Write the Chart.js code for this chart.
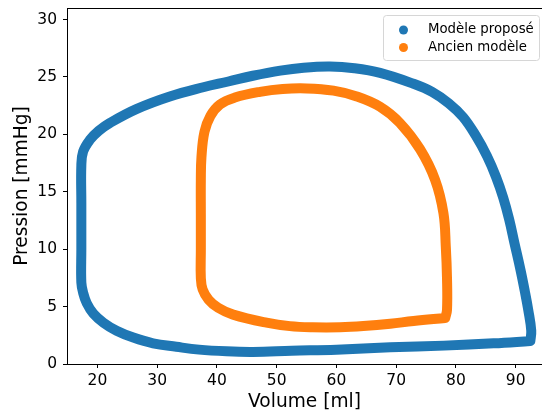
<!DOCTYPE html>
<html lang="fr">
<head>
    <meta charset="UTF-8">
    <title>Boucle pression-volume</title>
    <script src="https://cdn.jsdelivr.net/npm/chart.js@4.4.3/dist/chart.umd.min.js"></script>
    <style>
        body { margin: 0; background: #fff; }
        canvas { display: block; }
    </style>
</head>
<body>
    <canvas id="pvChart" width="542" height="414"></canvas>
    <script>
        // Boucle du modèle proposé (volume en ml, pression en mmHg)
        const volumePropose = [92.45, 86.3, 78.0, 69.0, 60.0, 52.5, 46.0, 41.6, 37.0, 33.2, 29.3, 26.0, 23.2, 21.0, 19.3, 18.2, 17.6, 17.3, 17.3, 17.3, 17.3, 17.6, 18.7, 20.2, 22.1, 26.5, 32.1, 37.7, 41.9, 46.0, 50.6, 54.5, 58.9, 63.0, 67.3, 72.9, 76.0, 78.8, 81.2, 83.3, 85.2, 86.7, 87.9, 88.9, 89.8, 90.8, 91.5, 92.1, 92.6, 92.45];
        const pressionPropose = [2.0, 1.8, 1.6, 1.45, 1.25, 1.15, 1.05, 1.1, 1.25, 1.5, 1.8, 2.3, 2.9, 3.6, 4.4, 5.3, 6.2, 7.1, 10.0, 14.0, 17.3, 18.5, 19.5, 20.3, 21.0, 22.2, 23.3, 24.1, 24.6, 25.1, 25.55, 25.8, 25.9, 25.75, 25.35, 24.4, 23.7, 22.7, 21.5, 19.9, 18.1, 16.3, 14.5, 12.6, 10.5, 8.2, 6.4, 4.7, 2.9, 2.0];

        // Boucle de l'ancien modèle
        const volumeAncien = [78.2, 72.9, 69.0, 64.5, 60.6, 56.0, 52.2, 48.3, 42.7, 40.2, 38.6, 37.6, 37.3, 37.3, 37.3, 37.3, 37.4, 37.9, 38.9, 40.5, 43.0, 47.2, 51.0, 55.0, 59.5, 63.4, 67.3, 70.6, 74.0, 76.5, 77.9, 78.3, 78.5, 78.5, 78.2];
        const pressionAncien = [4.0, 3.75, 3.5, 3.3, 3.2, 3.2, 3.3, 3.6, 4.3, 4.9, 5.6, 6.5, 7.5, 10.0, 13.0, 16.0, 18.0, 20.2, 21.6, 22.6, 23.2, 23.7, 23.95, 24.0, 23.8, 23.3, 22.4, 21.0, 18.7, 16.05, 13.15, 10.2, 7.5, 4.7, 4.0];

        const xTicks = [20, 30, 40, 50, 60, 70, 80, 90];
        const yTicks = [0, 5, 10, 15, 20, 25, 30];

        const police = "'DejaVu Sans', sans-serif";

        function points(xs, ys) {
            return xs.map((x, i) => ({ x: x, y: ys[i] }));
        }

        function sansMarge(axis) {
            axis.paddingTop = 0;
            axis.paddingBottom = 0;
            axis.paddingLeft = 0;
            axis.paddingRight = 0;
        }

        // spine du haut + légende dans le cadre, façon matplotlib
        const cadrePlugin = {
            id: 'cadre',
            afterDraw(chart) {
                const ctx = chart.ctx;
                const a = chart.chartArea;
                ctx.save();
                ctx.strokeStyle = '#000';
                ctx.lineWidth = 1;
                ctx.beginPath();
                ctx.moveTo(a.left, a.top + 0.5);
                ctx.lineTo(a.right, a.top + 0.5);
                ctx.stroke();

                // légende
                const bx = 383.5, by = 15.5, bw = 156, bh = 45;
                ctx.fillStyle = 'rgba(255,255,255,0.8)';
                ctx.strokeStyle = '#d6d6d6';
                ctx.beginPath();
                ctx.roundRect(bx, by, bw, bh, 3);
                ctx.fill();
                ctx.stroke();
                ctx.font = '13.3px ' + police;
                ctx.textBaseline = 'middle';
                chart.data.datasets.forEach((ds, i) => {
                    const cy = 30 + i * 17.5;
                    ctx.fillStyle = ds.borderColor;
                    ctx.beginPath();
                    ctx.arc(403.5, cy, 4.5, 0, Math.PI * 2);
                    ctx.fill();
                    ctx.fillStyle = '#000';
                    ctx.fillText(ds.label, 428, cy);
                });
                ctx.restore();
            }
        };

        new Chart(document.getElementById('pvChart'), {
            type: 'scatter',
            data: {
                datasets: [{
                    label: 'Modèle proposé',
                    data: points(volumePropose, pressionPropose),
                    borderColor: '#1f77b4',
                    backgroundColor: '#1f77b4'
                }, {
                    label: 'Ancien modèle',
                    data: points(volumeAncien, pressionAncien),
                    borderColor: '#ff7f0e',
                    backgroundColor: '#ff7f0e'
                }]
            },
            options: {
                responsive: false,
                animation: false,
                devicePixelRatio: 1,
                layout: { padding: { top: 8, right: 0, left: 0, bottom: 0 } },
                datasets: {
                    scatter: {
                        showLine: true,
                        pointRadius: 0,
                        borderWidth: 10,
                        tension: 0.4,
                        borderCapStyle: 'round',
                        borderJoinStyle: 'round'
                    }
                },
                plugins: {
                    legend: { display: false },
                    tooltip: { enabled: false }
                },
                scales: {
                    x: {
                        type: 'linear',
                        min: 14.9,
                        max: 94.4,
                        afterBuildTicks: axis => { axis.ticks = xTicks.map(v => ({ value: v })); },
                        afterFit: axis => { axis.height = 50; sansMarge(axis); },
                        grid: { drawOnChartArea: false, drawTicks: true, tickLength: 4, color: '#000' },
                        border: { display: true, color: '#000', width: 1 },
                        ticks: { color: '#000', font: { family: police, size: 15.5 }, padding: 4 },
                        title: {
                            display: true,
                            text: 'Volume [ml]',
                            color: '#000',
                            font: { family: police, size: 18.6 },
                            padding: { top: 0, bottom: 1 }
                        }
                    },
                    y: {
                        min: 0,
                        max: 31,
                        afterBuildTicks: axis => { axis.ticks = yTicks.map(v => ({ value: v })); },
                        afterFit: axis => { axis.width = 67; sansMarge(axis); },
                        grid: { drawOnChartArea: false, drawTicks: true, tickLength: 4, color: '#000' },
                        border: { display: true, color: '#000', width: 1 },
                        ticks: { color: '#000', font: { family: police, size: 15.5 }, padding: 6 },
                        title: {
                            display: true,
                            text: 'Pression [mmHg]',
                            color: '#000',
                            font: { family: police, size: 18.6 },
                            padding: { top: 11, bottom: 0 }
                        }
                    }
                }
            },
            plugins: [cadrePlugin]
        });
    </script>
</body>
</html>
